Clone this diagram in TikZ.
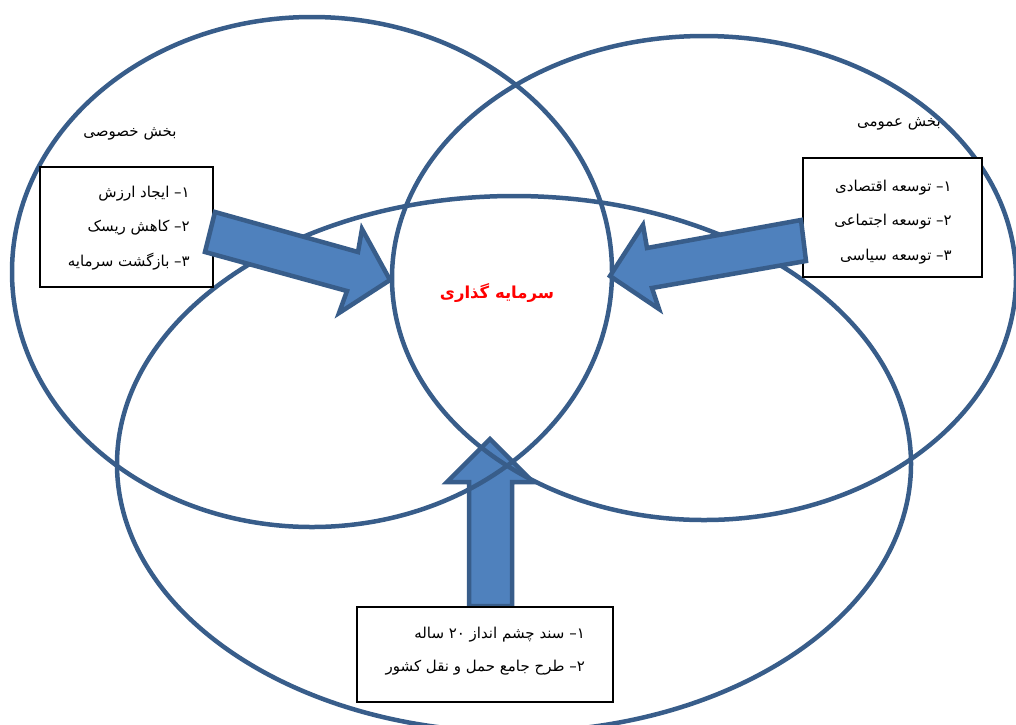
\documentclass[tikz,border=0pt]{standalone}
\usepackage{fontspec}
\usetikzlibrary{shapes.geometric}
\TeXXeTstate=1
\newfontfamily\arabicfont[Script=Arabic]{DejaVu Sans}
\definecolor{ringblue}{HTML}{385D8A}
\definecolor{arrowfill}{HTML}{4F81BD}
\definecolor{arrowline}{HTML}{385D8A}
\definecolor{labelred}{HTML}{FF0000}
\begin{document}
\begin{tikzpicture}[x=1pt,y=-1pt,
  ring/.style={ellipse,draw=ringblue,line width=4.5pt,inner sep=0pt},
  blockarrow/.style={fill=arrowfill,draw=arrowline,line width=4.5pt,line join=miter},
  listbox/.style={draw=black,fill=white,line width=1.6pt,inner sep=0pt},
  itemtext/.style={font=\arabicfont\fontsize{15}{17}\selectfont,anchor=east,inner sep=0pt},
  sectortext/.style={font=\arabicfont\fontsize{15}{17}\selectfont,inner sep=0pt},
  centertext/.style={font=\arabicfont\bfseries\fontsize{16.5}{18}\selectfont,text=labelred,inner sep=0pt}]
\useasboundingbox (0,0) rectangle (1016,724);
\clip (0,0) rectangle (1016,724);
% up arrow (behind the rings)
\filldraw[blockarrow] (490,439) -- (533,482) -- (512,482) -- (512,606) -- (469,606) -- (469,482) -- (447,482) -- cycle;
% rings
\node[ring,minimum width=600pt,minimum height=510pt] (private) at (312,272) {};
\node[ring,minimum width=624pt,minimum height=484pt] (public) at (704,278) {};
\node[ring,minimum width=794pt,minimum height=536pt] (project) at (514,464) {};
% boxes
\node[listbox,minimum width=173pt,minimum height=120pt] (lbox) at (126.5,227) {};
\node[listbox,minimum width=179pt,minimum height=119pt] (rbox) at (892.5,217.5) {};
\node[listbox,minimum width=256pt,minimum height=95pt] (bbox) at (485,654.5) {};
% side arrows
\filldraw[blockarrow] (215,212) -- (358,252) -- (362,229) -- (390,280) -- (339,313) -- (347,291) -- (205,252) -- cycle;
\filldraw[blockarrow] (801,220) -- (647,248) -- (643,225) -- (610,276) -- (659,309) -- (652,288) -- (806,261) -- cycle;
% texts
\node[sectortext] (privlabel) at (130,134) {\beginR بخش خصوصی\endR};
\node[sectortext] (publabel) at (899,124) {\beginR بخش عمومی\endR};
\node[centertext] (invest) at (497,293) {\beginR سرمایه گذاری\endR};
\node[itemtext] (l1) at (190,194) {\beginR ۱– ایجاد ارزش\endR};
\node[itemtext] (l2) at (190,228) {\beginR ۲– کاهش ریسک\endR};
\node[itemtext] (l3) at (190,262) {\beginR ۳– بازگشت سرمایه\endR};
\node[itemtext] (r1) at (952,188) {\beginR ۱– توسعه اقتصادی\endR};
\node[itemtext] (r2) at (952,222) {\beginR ۲– توسعه اجتماعی\endR};
\node[itemtext] (r3) at (952,257) {\beginR ۳– توسعه سیاسی\endR};
\node[itemtext] (b1) at (585,635) {\beginR ۱– سند چشم انداز \beginL۲۰\endL{} ساله\endR};
\node[itemtext] (b2) at (585,668) {\beginR ۲– طرح جامع حمل و نقل کشور\endR};
\end{tikzpicture}
\end{document}
